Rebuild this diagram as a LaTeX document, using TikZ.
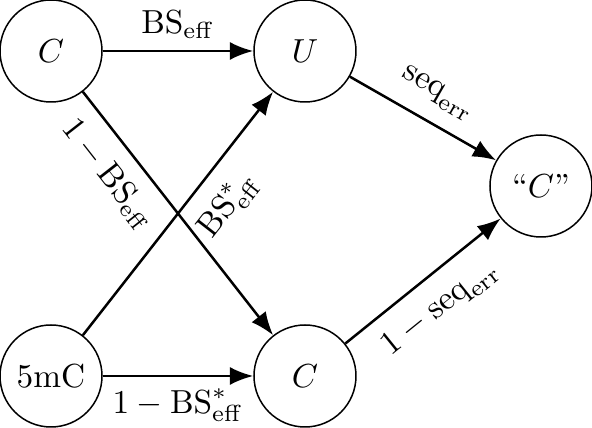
\documentclass[tikz,border=0pt]{standalone}
\usepackage{amssymb}
\usepackage{tikz}
\usetikzlibrary{arrows.meta,automata,positioning}

\begin{document}
\begin{tikzpicture}[auto,node distance = 76.2pt]

\tikzstyle{every state}=[draw=black,fill=none,line width=0.45pt,minimum size=30.6pt,inner sep=0pt]
\tikzstyle{flow}=[-{Latex[length=7pt,width=5.4pt]},line width=0.75pt]
\tikzstyle{slant}=[sloped,inner sep=4.8pt]

\useasboundingbox (0,0) rectangle (177.6pt,128.4pt);

%upper row
\node[state] (c1) at (15.3pt,113.1pt) {$C$};
\node[state] (u)  [right of=c1] {$U$};

%lower row
\node[state] (m5) [below of=c1,yshift=-21.3pt] {5mC};
\node[state] (c2) [right of=m5] {$C$};

%read out
\node[state] (cq) [right of=u,xshift=-5.4pt,yshift=-40.5pt] {``$C$''};

%from C
\path [flow] (c1) edge node {$\mathrm{BS}_{\mathrm{eff}}$} (u)
      [flow] (c1) edge node [slant,swap,pos=0.26] {$1-\mathrm{BS}_{\mathrm{eff}}$} (c2)
%from 5mC
      [flow] (m5) edge node [slant,swap,pos=0.62] {$\mathrm{BS}^*_{\mathrm{eff}}$} (u)
      [flow] (m5) edge node [swap] {$1-\mathrm{BS}^*_{\mathrm{eff}}$} (c2)
%to read out
      [flow] (u)  edge node [slant,pos=0.5] {$\mathrm{seq}_{\mathrm{err}}$} (cq)
      [flow] (c2) edge node [slant,swap,pos=0.48] {$1-\mathrm{seq}_{\mathrm{err}}$} (cq);

\end{tikzpicture}
\end{document}
